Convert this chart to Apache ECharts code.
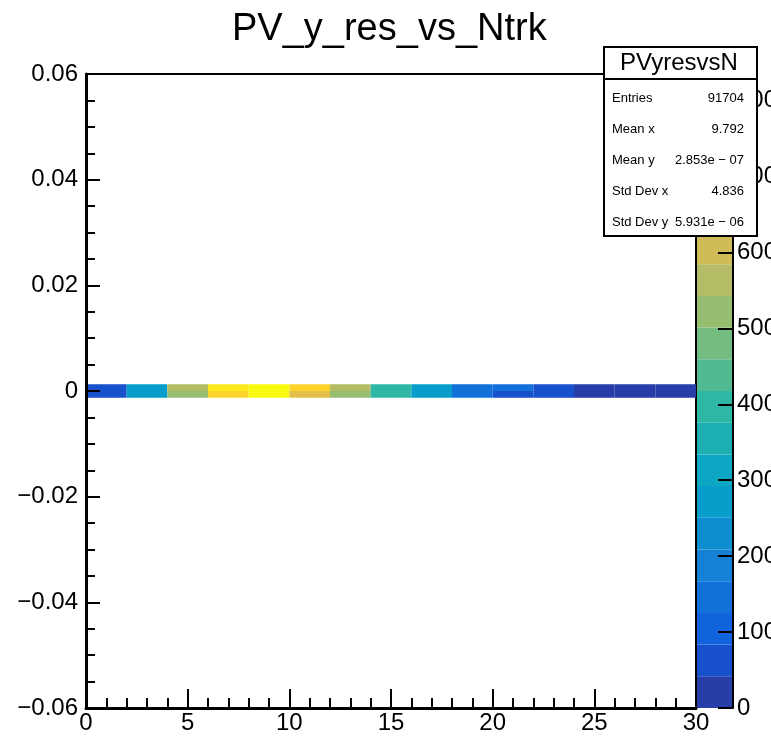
<!DOCTYPE html>
<html><head><meta charset="utf-8">
<script src="https://cdn.jsdelivr.net/npm/echarts@6/dist/echarts.min.js"></script>
<style>html,body{margin:0;padding:0;background:#fff}#chart{width:771px;height:742px}</style>
</head><body><div id="chart"></div>
<script>
// ---------------- data ----------------
const chartTitle = 'PV_y_res_vs_Ntrk';
const xBinEdges = [0, 2, 4, 6, 8, 10, 12, 14, 16, 18, 20, 22, 24, 26, 28, 30];
const yBinEdges = [-0.0013, 0, 0.0013];
const countsLowerRow = [63, 271, 522, 731, 798, 647, 522, 397, 271, 146, 63, 63, 21, 21, 21];
const countsUpperRow = [63, 271, 564, 772, 800, 731, 564, 397, 271, 146, 146, 63, 21, 21, 21];
const zMax = 835;
const nContours = 20;
const statsName = 'PVyresvsN';
const statsLabels = ['Entries', 'Mean x', 'Mean y', 'Std Dev x', 'Std Dev y'];
const statsValues = ['91704', '9.792', '2.853e \u2212 07', '4.836', '5.931e \u2212 06'];

// ---------------- palette (ROOT kBird) ----------------
const FONT = '"Liberation Sans", Arial, Helvetica, sans-serif';
const birdStops = [0, 0.125, 0.25, 0.375, 0.5, 0.625, 0.75, 0.875, 1];
const birdR = [0.2082, 0.0592, 0.0780, 0.0232, 0.1802, 0.5301, 0.8186, 0.9956, 0.9764];
const birdG = [0.1664, 0.3599, 0.5041, 0.6419, 0.7178, 0.7492, 0.7328, 0.7862, 0.9832];
const birdB = [0.5293, 0.8684, 0.8385, 0.7914, 0.6425, 0.4662, 0.3499, 0.1968, 0.0539];
function birdColor(t) {
  let k = 0;
  while (k < birdStops.length - 2 && t > birdStops[k + 1]) k++;
  const f = (t - birdStops[k]) / (birdStops[k + 1] - birdStops[k]);
  const c = a => Math.round(255 * (a[k] + f * (a[k + 1] - a[k])));
  return 'rgb(' + c(birdR) + ',' + c(birdG) + ',' + c(birdB) + ')';
}
const levelColors = [];
for (let i = 0; i < nContours; i++) levelColors.push(birdColor(Math.floor((i + 0.99) * 255 / nContours) / 254));
function colorForCount(v) {
  let l = Math.floor(v / zMax * nContours);
  l = Math.max(0, Math.min(nContours - 1, l));
  return levelColors[l];
}

// ---------------- build series data ----------------
const cellData = [];
[countsLowerRow, countsUpperRow].forEach((row, r) => {
  row.forEach((v, i) => {
    cellData.push([xBinEdges[i], xBinEdges[i + 1], yBinEdges[r], yBinEdges[r + 1], v]);
  });
});
const levelData = [];
for (let i = 0; i < nContours; i++) levelData.push([i * zMax / nContours, (i + 1) * zMax / nContours, i]);

function renderCell(params, api) {
  const p0 = api.coord([api.value(0), api.value(3)]);
  const p1 = api.coord([api.value(1), api.value(2)]);
  return { type: 'rect', shape: { x: p0[0], y: p0[1], width: p1[0] - p0[0], height: p1[1] - p0[1] },
    style: { fill: colorForCount(api.value(4)), stroke: null } };
}
function renderLevel(params, api) {
  const p0 = api.coord([0, api.value(1)]);
  const p1 = api.coord([1, api.value(0)]);
  return { type: 'rect', shape: { x: p0[0], y: p0[1], width: p1[0] - p0[0], height: p1[1] - p0[1] },
    style: { fill: levelColors[api.value(2)], stroke: null } };
}

function yFmt(v) {
  if (Math.abs(v) < 1e-9) return '0';
  const s = v.toFixed(2);
  return s.replace('-', '\u2212');
}

const statsGraphic = [
  { type: 'rect', z: 100, shape: { x: 604, y: 47, width: 153, height: 189 }, style: { fill: '#fff', stroke: '#000', lineWidth: 2 } },
  { type: 'line', z: 101, shape: { x1: 604, y1: 79, x2: 757, y2: 79 }, style: { stroke: '#000', lineWidth: 2 } },
  { type: 'text', z: 101, x: 679, y: 63, style: { text: statsName, font: '24px ' + FONT, fill: '#000', textAlign: 'center', textVerticalAlign: 'middle' } }
];
const rowY = [98, 129, 160, 191, 222];
statsLabels.forEach((lab, i) => {
  statsGraphic.push({ type: 'text', z: 101, x: 612, y: rowY[i], style: { text: lab, font: '13px ' + FONT, fill: '#000', textAlign: 'left', textVerticalAlign: 'middle' } });
  statsGraphic.push({ type: 'text', z: 101, x: 744, y: rowY[i], style: { text: statsValues[i], font: '13px ' + FONT, fill: '#000', textAlign: 'right', textVerticalAlign: 'middle' } });
});

const tickStyle = { color: '#000', width: 2 };
const option = {
  animation: false,
  backgroundColor: '#fff',
  textStyle: { fontFamily: FONT },
  title: { text: chartTitle, left: 227, top: 6, textStyle: { fontSize: 38, fontWeight: 'normal', color: '#000', fontFamily: FONT } },
  grid: [
    { left: 86, top: 74, width: 610, height: 634, show: true, borderColor: '#000', borderWidth: 2, backgroundColor: 'transparent', outerBoundsMode: 'none', containLabel: false },
    { left: 697, top: 74, width: 36, height: 634, outerBoundsMode: 'none', containLabel: false }
  ],
  xAxis: [
    { gridIndex: 0, type: 'value', min: 0, max: 30, interval: 5, z: 5,
      axisLine: { show: true, onZero: false, lineStyle: { color: '#000', width: 3 } },
      axisTick: { show: true, inside: true, length: 19, lineStyle: tickStyle },
      minorTick: { show: true, splitNumber: 5, length: 10, lineStyle: tickStyle },
      splitLine: { show: false },
      axisLabel: { color: '#000', fontSize: 24, margin: 3, fontFamily: FONT } },
    { gridIndex: 1, type: 'value', min: 0, max: 1, show: false }
  ],
  yAxis: [
    { gridIndex: 0, type: 'value', min: -0.06, max: 0.06, interval: 0.02, z: 5,
      axisLine: { show: true, onZero: false, lineStyle: { color: '#000', width: 3 } },
      axisTick: { show: true, inside: true, length: 14, lineStyle: tickStyle },
      minorTick: { show: true, splitNumber: 4, length: 9, lineStyle: tickStyle },
      splitLine: { show: false },
      axisLabel: { color: '#000', fontSize: 24, margin: 8, fontFamily: FONT, formatter: yFmt } },
    { gridIndex: 1, type: 'value', min: 0, max: zMax, interval: 100, position: 'right', z: 5,
      axisLine: { show: true, onZero: false, lineStyle: { color: '#000', width: 2 } },
      axisTick: { show: true, inside: true, length: 15, lineStyle: tickStyle },
      splitLine: { show: false },
      axisLabel: { color: '#000', fontSize: 24, margin: 4, fontFamily: FONT, showMaxLabel: false, hideOverlap: false,
        formatter: v => (v % 100 === 0 ? String(v) : '') } }
  ],
  series: [
    { type: 'custom', xAxisIndex: 0, yAxisIndex: 0, renderItem: renderCell, data: cellData, encode: { x: [0, 1], y: [2, 3] } },
    { type: 'custom', xAxisIndex: 1, yAxisIndex: 1, renderItem: renderLevel, data: levelData, encode: { y: [0, 1] } }
  ],
  graphic: statsGraphic
};
const chart = echarts.init(document.getElementById('chart'), null, { renderer: 'canvas' });
chart.setOption(option);
</script>
</body></html>
